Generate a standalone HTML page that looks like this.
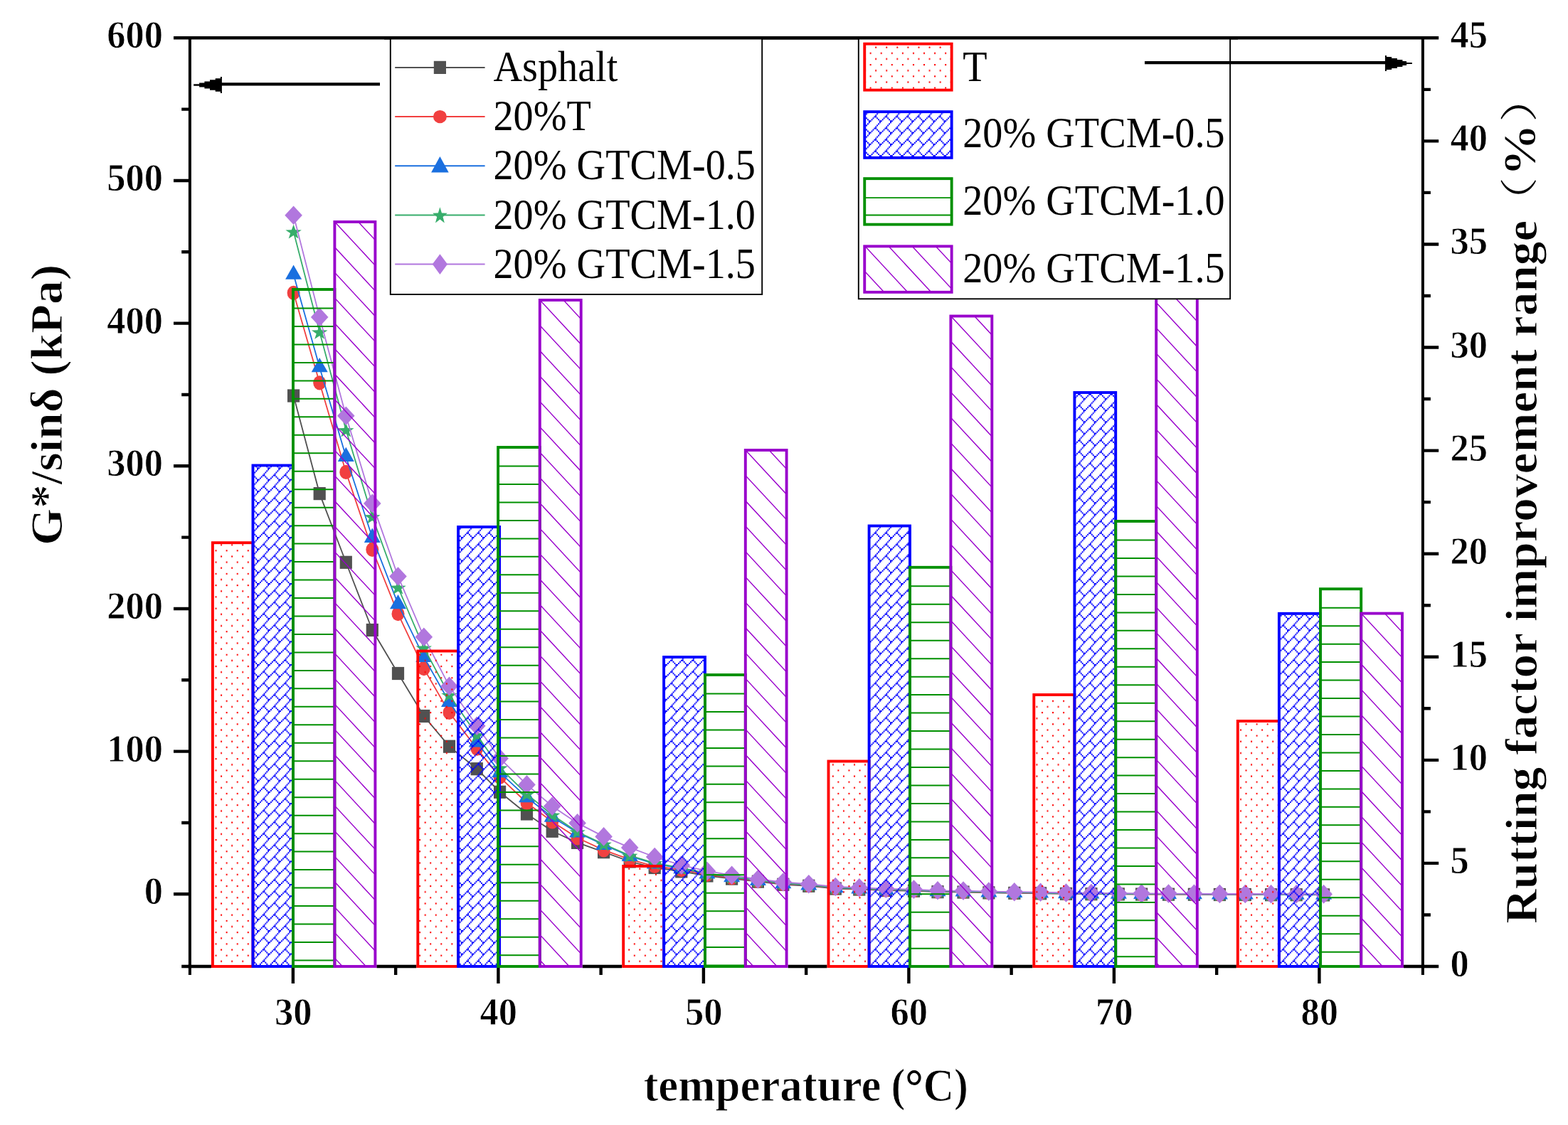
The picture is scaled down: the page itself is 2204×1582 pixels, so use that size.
<!DOCTYPE html>
<html lang="en"><head><meta charset="utf-8"><title>Rutting factor chart</title>
<style>html,body{margin:0;padding:0;background:#fff}svg{display:block}text{font-family:"Liberation Serif","Noto Serif CJK SC",serif;fill:#000}.b{font-weight:bold;stroke:#fff;stroke-width:1px;stroke-linejoin:round}</style></head><body>
<svg width="2204" height="1582" viewBox="0 0 2204 1582">
<rect width="2204" height="1582" fill="#fff"/>
<g>
<defs>
<pattern id="pb" patternUnits="userSpaceOnUse" width="8" height="8" patternTransform="translate(361.13 657.33) scale(1.8854 2.0335)">
<rect x="0" y="0" width="1" height="1" fill="#0000FF"/>
<rect x="1" y="0" width="1" height="1" fill="#0000FF"/>
<rect x="0" y="1" width="1" height="1" fill="#0000FF"/>
<rect x="7" y="2" width="1" height="1" fill="#0000FF"/>
<rect x="6" y="3" width="1" height="1" fill="#0000FF"/>
<rect x="5" y="4" width="1" height="1" fill="#0000FF"/>
<rect x="4" y="5" width="1" height="1" fill="#0000FF"/>
<rect x="5" y="5" width="1" height="1" fill="#0000FF"/>
<rect x="3" y="6" width="1" height="1" fill="#0000FF"/>
<rect x="6" y="6" width="1" height="1" fill="#0000FF"/>
<rect x="2" y="7" width="1" height="1" fill="#0000FF"/>
<rect x="7" y="7" width="1" height="1" fill="#0000FF"/>
</pattern>
<pattern id="pr" patternUnits="userSpaceOnUse" width="8" height="8" patternTransform="translate(302.56 1228.78) scale(1.8854 2.0335)">
<rect x="0" y="0" width="1.05" height="1.05" fill="#FF0000"/><rect x="4" y="4" width="1.05" height="1.05" fill="#FF0000"/>
</pattern>
</defs>
<g>
<polyline points="412.6,556.5 449.2,694.1 486.3,790.8 523.3,886 559.5,947 595.8,1007 631.5,1049.7 670.3,1081.2 702.6,1113.8 740.5,1144.5 776.2,1168.8 811.6,1184.9 848.6,1198.2 885.2,1211.5 920.2,1220 957.8,1225.4 993.9,1231.5 1028.6,1235.6 1065.4,1239.7 1100.8,1243.8 1136.8,1245.8 1174.3,1249.6 1207.8,1250.6 1245.3,1252 1284.5,1252.8 1318,1254.2 1354,1254.6 1389.9,1255.4 1425.8,1255.9 1462.6,1256.3 1498.5,1256.9 1533.9,1257.2 1572.3,1257.4 1604.6,1257.6 1642.5,1257.7 1678.4,1257.8 1714.4,1258 1750.3,1258 1786.6,1258.2 1822.2,1258.2 1860.6,1258.4" fill="none" stroke="#515151" stroke-width="1.8"/>
<rect x="404" y="547.4" width="17.2" height="18.2" fill="#515151"/>
<rect x="440.6" y="685" width="17.2" height="18.2" fill="#515151"/>
<rect x="477.7" y="781.7" width="17.2" height="18.2" fill="#515151"/>
<rect x="514.7" y="876.9" width="17.2" height="18.2" fill="#515151"/>
<rect x="550.9" y="937.9" width="17.2" height="18.2" fill="#515151"/>
<rect x="587.2" y="997.9" width="17.2" height="18.2" fill="#515151"/>
<rect x="622.9" y="1040.6" width="17.2" height="18.2" fill="#515151"/>
<rect x="661.7" y="1072.1" width="17.2" height="18.2" fill="#515151"/>
<rect x="694" y="1104.7" width="17.2" height="18.2" fill="#515151"/>
<rect x="731.9" y="1135.4" width="17.2" height="18.2" fill="#515151"/>
<rect x="767.6" y="1159.7" width="17.2" height="18.2" fill="#515151"/>
<rect x="803" y="1175.8" width="17.2" height="18.2" fill="#515151"/>
<rect x="840" y="1189.1" width="17.2" height="18.2" fill="#515151"/>
<rect x="876.6" y="1202.4" width="17.2" height="18.2" fill="#515151"/>
<rect x="911.6" y="1210.9" width="17.2" height="18.2" fill="#515151"/>
<rect x="949.2" y="1216.3" width="17.2" height="18.2" fill="#515151"/>
<rect x="985.3" y="1222.4" width="17.2" height="18.2" fill="#515151"/>
<rect x="1020" y="1226.5" width="17.2" height="18.2" fill="#515151"/>
<rect x="1056.8" y="1230.6" width="17.2" height="18.2" fill="#515151"/>
<rect x="1092.2" y="1234.7" width="17.2" height="18.2" fill="#515151"/>
<rect x="1128.2" y="1236.7" width="17.2" height="18.2" fill="#515151"/>
<rect x="1165.7" y="1240.5" width="17.2" height="18.2" fill="#515151"/>
<rect x="1199.2" y="1241.5" width="17.2" height="18.2" fill="#515151"/>
<rect x="1236.7" y="1242.9" width="17.2" height="18.2" fill="#515151"/>
<rect x="1275.9" y="1243.7" width="17.2" height="18.2" fill="#515151"/>
<rect x="1309.4" y="1245.1" width="17.2" height="18.2" fill="#515151"/>
<rect x="1345.4" y="1245.5" width="17.2" height="18.2" fill="#515151"/>
<rect x="1381.3" y="1246.3" width="17.2" height="18.2" fill="#515151"/>
<rect x="1417.2" y="1246.8" width="17.2" height="18.2" fill="#515151"/>
<rect x="1454" y="1247.2" width="17.2" height="18.2" fill="#515151"/>
<rect x="1489.9" y="1247.8" width="17.2" height="18.2" fill="#515151"/>
<rect x="1525.3" y="1248.1" width="17.2" height="18.2" fill="#515151"/>
<rect x="1563.7" y="1248.3" width="17.2" height="18.2" fill="#515151"/>
<rect x="1596" y="1248.5" width="17.2" height="18.2" fill="#515151"/>
<rect x="1633.9" y="1248.6" width="17.2" height="18.2" fill="#515151"/>
<rect x="1669.8" y="1248.7" width="17.2" height="18.2" fill="#515151"/>
<rect x="1705.8" y="1248.9" width="17.2" height="18.2" fill="#515151"/>
<rect x="1741.7" y="1248.9" width="17.2" height="18.2" fill="#515151"/>
<rect x="1778" y="1249.1" width="17.2" height="18.2" fill="#515151"/>
<rect x="1813.6" y="1249.1" width="17.2" height="18.2" fill="#515151"/>
<rect x="1852" y="1249.3" width="17.2" height="18.2" fill="#515151"/>
<polyline points="412.6,411.8 449.2,538.3 486.3,663.9 523.3,772.8 559.5,863.2 595.8,940.2 631.5,1001.9 670.3,1052.6 702.6,1092.9 740.5,1129 776.2,1155.5 811.6,1178.3 848.6,1195.3 885.2,1208.6 920.2,1218 957.8,1223.23 993.9,1229.85 1028.6,1234.38 1065.4,1238.88 1100.8,1242.97 1136.8,1245.15 1174.3,1248.95 1207.8,1250 1245.3,1251.45 1284.5,1252.25 1318,1253.72 1354,1254.1 1389.9,1254.95 1425.8,1255.48 1462.6,1255.9 1498.5,1256.55 1533.9,1256.9 1572.3,1257.1 1604.6,1257.3 1642.5,1257.42 1678.4,1257.55 1714.4,1257.75 1750.3,1257.75 1786.6,1257.95 1822.2,1257.95 1860.6,1258.15" fill="none" stroke="#F14040" stroke-width="1.8"/>
<ellipse cx="412.6" cy="411.8" rx="9.0" ry="10.1" fill="#F14040"/>
<ellipse cx="449.2" cy="538.3" rx="9.0" ry="10.1" fill="#F14040"/>
<ellipse cx="486.3" cy="663.9" rx="9.0" ry="10.1" fill="#F14040"/>
<ellipse cx="523.3" cy="772.8" rx="9.0" ry="10.1" fill="#F14040"/>
<ellipse cx="559.5" cy="863.2" rx="9.0" ry="10.1" fill="#F14040"/>
<ellipse cx="595.8" cy="940.2" rx="9.0" ry="10.1" fill="#F14040"/>
<ellipse cx="631.5" cy="1001.9" rx="9.0" ry="10.1" fill="#F14040"/>
<ellipse cx="670.3" cy="1052.6" rx="9.0" ry="10.1" fill="#F14040"/>
<ellipse cx="702.6" cy="1092.9" rx="9.0" ry="10.1" fill="#F14040"/>
<ellipse cx="740.5" cy="1129" rx="9.0" ry="10.1" fill="#F14040"/>
<ellipse cx="776.2" cy="1155.5" rx="9.0" ry="10.1" fill="#F14040"/>
<ellipse cx="811.6" cy="1178.3" rx="9.0" ry="10.1" fill="#F14040"/>
<ellipse cx="848.6" cy="1195.3" rx="9.0" ry="10.1" fill="#F14040"/>
<ellipse cx="885.2" cy="1208.6" rx="9.0" ry="10.1" fill="#F14040"/>
<ellipse cx="920.2" cy="1218" rx="9.0" ry="10.1" fill="#F14040"/>
<ellipse cx="957.8" cy="1223.23" rx="9.0" ry="10.1" fill="#F14040"/>
<ellipse cx="993.9" cy="1229.85" rx="9.0" ry="10.1" fill="#F14040"/>
<ellipse cx="1028.6" cy="1234.38" rx="9.0" ry="10.1" fill="#F14040"/>
<ellipse cx="1065.4" cy="1238.88" rx="9.0" ry="10.1" fill="#F14040"/>
<ellipse cx="1100.8" cy="1242.97" rx="9.0" ry="10.1" fill="#F14040"/>
<ellipse cx="1136.8" cy="1245.15" rx="9.0" ry="10.1" fill="#F14040"/>
<ellipse cx="1174.3" cy="1248.95" rx="9.0" ry="10.1" fill="#F14040"/>
<ellipse cx="1207.8" cy="1250" rx="9.0" ry="10.1" fill="#F14040"/>
<ellipse cx="1245.3" cy="1251.45" rx="9.0" ry="10.1" fill="#F14040"/>
<ellipse cx="1284.5" cy="1252.25" rx="9.0" ry="10.1" fill="#F14040"/>
<ellipse cx="1318" cy="1253.72" rx="9.0" ry="10.1" fill="#F14040"/>
<ellipse cx="1354" cy="1254.1" rx="9.0" ry="10.1" fill="#F14040"/>
<ellipse cx="1389.9" cy="1254.95" rx="9.0" ry="10.1" fill="#F14040"/>
<ellipse cx="1425.8" cy="1255.48" rx="9.0" ry="10.1" fill="#F14040"/>
<ellipse cx="1462.6" cy="1255.9" rx="9.0" ry="10.1" fill="#F14040"/>
<ellipse cx="1498.5" cy="1256.55" rx="9.0" ry="10.1" fill="#F14040"/>
<ellipse cx="1533.9" cy="1256.9" rx="9.0" ry="10.1" fill="#F14040"/>
<ellipse cx="1572.3" cy="1257.1" rx="9.0" ry="10.1" fill="#F14040"/>
<ellipse cx="1604.6" cy="1257.3" rx="9.0" ry="10.1" fill="#F14040"/>
<ellipse cx="1642.5" cy="1257.42" rx="9.0" ry="10.1" fill="#F14040"/>
<ellipse cx="1678.4" cy="1257.55" rx="9.0" ry="10.1" fill="#F14040"/>
<ellipse cx="1714.4" cy="1257.75" rx="9.0" ry="10.1" fill="#F14040"/>
<ellipse cx="1750.3" cy="1257.75" rx="9.0" ry="10.1" fill="#F14040"/>
<ellipse cx="1786.6" cy="1257.95" rx="9.0" ry="10.1" fill="#F14040"/>
<ellipse cx="1822.2" cy="1257.95" rx="9.0" ry="10.1" fill="#F14040"/>
<ellipse cx="1860.6" cy="1258.15" rx="9.0" ry="10.1" fill="#F14040"/>
<polyline points="412.6,385.9 449.2,516.4 486.3,642.2 523.3,756 559.5,849.4 595.8,924.2 631.5,987.2 670.3,1043.6 702.6,1086.3 740.5,1121.4 776.2,1148.9 811.6,1170.7 848.6,1188 885.2,1204 920.2,1214.5 957.8,1221.49 993.9,1228.53 1028.6,1233.39 1065.4,1238.22 1100.8,1242.32 1136.8,1244.63 1174.3,1248.43 1207.8,1249.52 1245.3,1251.01 1284.5,1251.81 1318,1253.35 1354,1253.7 1389.9,1254.59 1425.8,1255.13 1462.6,1255.58 1498.5,1256.27 1533.9,1256.66 1572.3,1256.86 1604.6,1257.06 1642.5,1257.2 1678.4,1257.35 1714.4,1257.55 1750.3,1257.55 1786.6,1257.75 1822.2,1257.75 1860.6,1257.95" fill="none" stroke="#1A6FDF" stroke-width="1.8"/>
<polygon points="412.6,372.4 424.1,392.8 401.1,392.8" fill="#1A6FDF"/>
<polygon points="449.2,502.9 460.7,523.3 437.7,523.3" fill="#1A6FDF"/>
<polygon points="486.3,628.7 497.8,649.1 474.8,649.1" fill="#1A6FDF"/>
<polygon points="523.3,742.5 534.8,762.9 511.8,762.9" fill="#1A6FDF"/>
<polygon points="559.5,835.9 571,856.3 548,856.3" fill="#1A6FDF"/>
<polygon points="595.8,910.7 607.3,931.1 584.3,931.1" fill="#1A6FDF"/>
<polygon points="631.5,973.7 643,994.1 620,994.1" fill="#1A6FDF"/>
<polygon points="670.3,1030.1 681.8,1050.5 658.8,1050.5" fill="#1A6FDF"/>
<polygon points="702.6,1072.8 714.1,1093.2 691.1,1093.2" fill="#1A6FDF"/>
<polygon points="740.5,1107.9 752,1128.3 729,1128.3" fill="#1A6FDF"/>
<polygon points="776.2,1135.4 787.7,1155.8 764.7,1155.8" fill="#1A6FDF"/>
<polygon points="811.6,1157.2 823.1,1177.6 800.1,1177.6" fill="#1A6FDF"/>
<polygon points="848.6,1174.5 860.1,1194.9 837.1,1194.9" fill="#1A6FDF"/>
<polygon points="885.2,1190.5 896.7,1210.9 873.7,1210.9" fill="#1A6FDF"/>
<polygon points="920.2,1201 931.7,1221.4 908.7,1221.4" fill="#1A6FDF"/>
<polygon points="957.8,1207.99 969.3,1228.39 946.3,1228.39" fill="#1A6FDF"/>
<polygon points="993.9,1215.03 1005.4,1235.43 982.4,1235.43" fill="#1A6FDF"/>
<polygon points="1028.6,1219.89 1040.1,1240.3 1017.1,1240.3" fill="#1A6FDF"/>
<polygon points="1065.4,1224.72 1076.9,1245.12 1053.9,1245.12" fill="#1A6FDF"/>
<polygon points="1100.8,1228.82 1112.3,1249.22 1089.3,1249.22" fill="#1A6FDF"/>
<polygon points="1136.8,1231.13 1148.3,1251.53 1125.3,1251.53" fill="#1A6FDF"/>
<polygon points="1174.3,1234.93 1185.8,1255.33 1162.8,1255.33" fill="#1A6FDF"/>
<polygon points="1207.8,1236.02 1219.3,1256.42 1196.3,1256.42" fill="#1A6FDF"/>
<polygon points="1245.3,1237.51 1256.8,1257.91 1233.8,1257.91" fill="#1A6FDF"/>
<polygon points="1284.5,1238.31 1296,1258.71 1273,1258.71" fill="#1A6FDF"/>
<polygon points="1318,1239.85 1329.5,1260.25 1306.5,1260.25" fill="#1A6FDF"/>
<polygon points="1354,1240.2 1365.5,1260.6 1342.5,1260.6" fill="#1A6FDF"/>
<polygon points="1389.9,1241.09 1401.4,1261.49 1378.4,1261.49" fill="#1A6FDF"/>
<polygon points="1425.8,1241.63 1437.3,1262.04 1414.3,1262.04" fill="#1A6FDF"/>
<polygon points="1462.6,1242.08 1474.1,1262.48 1451.1,1262.48" fill="#1A6FDF"/>
<polygon points="1498.5,1242.77 1510,1263.17 1487,1263.17" fill="#1A6FDF"/>
<polygon points="1533.9,1243.16 1545.4,1263.56 1522.4,1263.56" fill="#1A6FDF"/>
<polygon points="1572.3,1243.36 1583.8,1263.76 1560.8,1263.76" fill="#1A6FDF"/>
<polygon points="1604.6,1243.56 1616.1,1263.96 1593.1,1263.96" fill="#1A6FDF"/>
<polygon points="1642.5,1243.7 1654,1264.11 1631,1264.11" fill="#1A6FDF"/>
<polygon points="1678.4,1243.85 1689.9,1264.25 1666.9,1264.25" fill="#1A6FDF"/>
<polygon points="1714.4,1244.05 1725.9,1264.45 1702.9,1264.45" fill="#1A6FDF"/>
<polygon points="1750.3,1244.05 1761.8,1264.45 1738.8,1264.45" fill="#1A6FDF"/>
<polygon points="1786.6,1244.25 1798.1,1264.65 1775.1,1264.65" fill="#1A6FDF"/>
<polygon points="1822.2,1244.25 1833.7,1264.65 1810.7,1264.65" fill="#1A6FDF"/>
<polygon points="1860.6,1244.45 1872.1,1264.85 1849.1,1264.85" fill="#1A6FDF"/>
<polyline points="412.6,325.7 449.2,466.8 486.3,604.6 523.3,726.5 559.5,826 595.8,910.9 631.5,977.2 670.3,1033.6 702.6,1079.7 740.5,1116.6 776.2,1146 811.6,1169.7 848.6,1187 885.2,1203 920.2,1213.5 957.8,1220.62 993.9,1227.87 1028.6,1232.9 1065.4,1237.88 1100.8,1241.98 1136.8,1244.37 1174.3,1248.17 1207.8,1249.28 1245.3,1250.79 1284.5,1251.59 1318,1253.15 1354,1253.5 1389.9,1254.41 1425.8,1254.97 1462.6,1255.42 1498.5,1256.13 1533.9,1256.54 1572.3,1256.74 1604.6,1256.94 1642.5,1257.1 1678.4,1257.25 1714.4,1257.45 1750.3,1257.45 1786.6,1257.65 1822.2,1257.65 1860.6,1257.85" fill="none" stroke="#37AD6B" stroke-width="1.8"/>
<polygon points="412.6,315.85 415.37,323.22 423.82,323.38 417.09,328.1 419.54,335.57 412.6,331.11 405.66,335.57 408.11,328.1 401.38,323.38 409.83,323.22" fill="#37AD6B"/>
<polygon points="449.2,456.95 451.97,464.32 460.42,464.48 453.69,469.2 456.14,476.67 449.2,472.21 442.26,476.67 444.71,469.2 437.98,464.48 446.43,464.32" fill="#37AD6B"/>
<polygon points="486.3,594.75 489.07,602.12 497.52,602.28 490.79,607 493.24,614.47 486.3,610.01 479.36,614.47 481.81,607 475.08,602.28 483.53,602.12" fill="#37AD6B"/>
<polygon points="523.3,716.65 526.07,724.02 534.52,724.18 527.79,728.9 530.24,736.37 523.3,731.91 516.36,736.37 518.81,728.9 512.08,724.18 520.53,724.02" fill="#37AD6B"/>
<polygon points="559.5,816.15 562.27,823.52 570.72,823.68 563.99,828.4 566.44,835.87 559.5,831.41 552.56,835.87 555.01,828.4 548.28,823.68 556.73,823.52" fill="#37AD6B"/>
<polygon points="595.8,901.05 598.57,908.42 607.02,908.58 600.29,913.3 602.74,920.77 595.8,916.31 588.86,920.77 591.31,913.3 584.58,908.58 593.03,908.42" fill="#37AD6B"/>
<polygon points="631.5,967.35 634.27,974.72 642.72,974.88 635.99,979.6 638.44,987.07 631.5,982.61 624.56,987.07 627.01,979.6 620.28,974.88 628.73,974.72" fill="#37AD6B"/>
<polygon points="670.3,1023.75 673.07,1031.12 681.52,1031.28 674.79,1036 677.24,1043.47 670.3,1039.01 663.36,1043.47 665.81,1036 659.08,1031.28 667.53,1031.12" fill="#37AD6B"/>
<polygon points="702.6,1069.85 705.37,1077.22 713.82,1077.38 707.09,1082.1 709.54,1089.57 702.6,1085.11 695.66,1089.57 698.11,1082.1 691.38,1077.38 699.83,1077.22" fill="#37AD6B"/>
<polygon points="740.5,1106.75 743.27,1114.12 751.72,1114.28 744.99,1119 747.44,1126.47 740.5,1122.01 733.56,1126.47 736.01,1119 729.28,1114.28 737.73,1114.12" fill="#37AD6B"/>
<polygon points="776.2,1136.15 778.97,1143.52 787.42,1143.68 780.69,1148.4 783.14,1155.87 776.2,1151.41 769.26,1155.87 771.71,1148.4 764.98,1143.68 773.43,1143.52" fill="#37AD6B"/>
<polygon points="811.6,1159.85 814.37,1167.22 822.82,1167.38 816.09,1172.1 818.54,1179.57 811.6,1175.11 804.66,1179.57 807.11,1172.1 800.38,1167.38 808.83,1167.22" fill="#37AD6B"/>
<polygon points="848.6,1177.15 851.37,1184.52 859.82,1184.68 853.09,1189.4 855.54,1196.87 848.6,1192.41 841.66,1196.87 844.11,1189.4 837.38,1184.68 845.83,1184.52" fill="#37AD6B"/>
<polygon points="885.2,1193.15 887.97,1200.52 896.42,1200.68 889.69,1205.4 892.14,1212.87 885.2,1208.41 878.26,1212.87 880.71,1205.4 873.98,1200.68 882.43,1200.52" fill="#37AD6B"/>
<polygon points="920.2,1203.65 922.97,1211.02 931.42,1211.18 924.69,1215.9 927.14,1223.37 920.2,1218.91 913.26,1223.37 915.71,1215.9 908.98,1211.18 917.43,1211.02" fill="#37AD6B"/>
<polygon points="957.8,1210.76 960.57,1218.14 969.02,1218.3 962.29,1223.01 964.74,1230.48 957.8,1226.02 950.86,1230.48 953.31,1223.01 946.58,1218.3 955.03,1218.14" fill="#37AD6B"/>
<polygon points="993.9,1218.02 996.67,1225.39 1005.12,1225.55 998.39,1230.27 1000.84,1237.74 993.9,1233.28 986.96,1237.74 989.41,1230.27 982.68,1225.55 991.13,1225.39" fill="#37AD6B"/>
<polygon points="1028.6,1223.05 1031.37,1230.43 1039.82,1230.59 1033.09,1235.3 1035.54,1242.77 1028.6,1238.31 1021.66,1242.77 1024.11,1235.3 1017.38,1230.59 1025.83,1230.43" fill="#37AD6B"/>
<polygon points="1065.4,1228.03 1068.17,1235.41 1076.62,1235.57 1069.89,1240.28 1072.34,1247.75 1065.4,1243.29 1058.46,1247.75 1060.91,1240.28 1054.18,1235.57 1062.63,1235.41" fill="#37AD6B"/>
<polygon points="1100.8,1232.13 1103.57,1239.51 1112.02,1239.67 1105.29,1244.38 1107.74,1251.85 1100.8,1247.39 1093.86,1251.85 1096.31,1244.38 1089.58,1239.67 1098.03,1239.51" fill="#37AD6B"/>
<polygon points="1136.8,1234.52 1139.57,1241.89 1148.02,1242.05 1141.29,1246.77 1143.74,1254.24 1136.8,1249.78 1129.86,1254.24 1132.31,1246.77 1125.58,1242.05 1134.03,1241.89" fill="#37AD6B"/>
<polygon points="1174.3,1238.32 1177.07,1245.69 1185.52,1245.85 1178.79,1250.57 1181.24,1258.04 1174.3,1253.58 1167.36,1258.04 1169.81,1250.57 1163.08,1245.85 1171.53,1245.69" fill="#37AD6B"/>
<polygon points="1207.8,1239.43 1210.57,1246.8 1219.02,1246.96 1212.29,1251.68 1214.74,1259.15 1207.8,1254.69 1200.86,1259.15 1203.31,1251.68 1196.58,1246.96 1205.03,1246.8" fill="#37AD6B"/>
<polygon points="1245.3,1240.94 1248.07,1248.31 1256.52,1248.47 1249.79,1253.19 1252.24,1260.66 1245.3,1256.2 1238.36,1260.66 1240.81,1253.19 1234.08,1248.47 1242.53,1248.31" fill="#37AD6B"/>
<polygon points="1284.5,1241.74 1287.27,1249.11 1295.72,1249.27 1288.99,1253.99 1291.44,1261.46 1284.5,1257 1277.56,1261.46 1280.01,1253.99 1273.28,1249.27 1281.73,1249.11" fill="#37AD6B"/>
<polygon points="1318,1243.3 1320.77,1250.68 1329.22,1250.84 1322.49,1255.55 1324.94,1263.02 1318,1258.56 1311.06,1263.02 1313.51,1255.55 1306.78,1250.84 1315.23,1250.68" fill="#37AD6B"/>
<polygon points="1354,1243.65 1356.77,1251.02 1365.22,1251.18 1358.49,1255.9 1360.94,1263.37 1354,1258.91 1347.06,1263.37 1349.51,1255.9 1342.78,1251.18 1351.23,1251.02" fill="#37AD6B"/>
<polygon points="1389.9,1244.56 1392.67,1251.93 1401.12,1252.09 1394.39,1256.81 1396.84,1264.28 1389.9,1259.82 1382.96,1264.28 1385.41,1256.81 1378.68,1252.09 1387.13,1251.93" fill="#37AD6B"/>
<polygon points="1425.8,1245.12 1428.57,1252.49 1437.02,1252.65 1430.29,1257.36 1432.74,1264.83 1425.8,1260.38 1418.86,1264.83 1421.31,1257.36 1414.58,1252.65 1423.03,1252.49" fill="#37AD6B"/>
<polygon points="1462.6,1245.57 1465.37,1252.94 1473.82,1253.1 1467.09,1257.82 1469.54,1265.29 1462.6,1260.83 1455.66,1265.29 1458.11,1257.82 1451.38,1253.1 1459.83,1252.94" fill="#37AD6B"/>
<polygon points="1498.5,1246.28 1501.27,1253.65 1509.72,1253.81 1502.99,1258.53 1505.44,1266 1498.5,1261.54 1491.56,1266 1494.01,1258.53 1487.28,1253.81 1495.73,1253.65" fill="#37AD6B"/>
<polygon points="1533.9,1246.69 1536.67,1254.06 1545.12,1254.22 1538.39,1258.94 1540.84,1266.41 1533.9,1261.95 1526.96,1266.41 1529.41,1258.94 1522.68,1254.22 1531.13,1254.06" fill="#37AD6B"/>
<polygon points="1572.3,1246.89 1575.07,1254.26 1583.52,1254.42 1576.79,1259.14 1579.24,1266.61 1572.3,1262.15 1565.36,1266.61 1567.81,1259.14 1561.08,1254.42 1569.53,1254.26" fill="#37AD6B"/>
<polygon points="1604.6,1247.09 1607.37,1254.46 1615.82,1254.62 1609.09,1259.34 1611.54,1266.81 1604.6,1262.35 1597.66,1266.81 1600.11,1259.34 1593.38,1254.62 1601.83,1254.46" fill="#37AD6B"/>
<polygon points="1642.5,1247.24 1645.27,1254.62 1653.72,1254.78 1646.99,1259.49 1649.44,1266.96 1642.5,1262.5 1635.56,1266.96 1638.01,1259.49 1631.28,1254.78 1639.73,1254.62" fill="#37AD6B"/>
<polygon points="1678.4,1247.4 1681.17,1254.77 1689.62,1254.93 1682.89,1259.65 1685.34,1267.12 1678.4,1262.66 1671.46,1267.12 1673.91,1259.65 1667.18,1254.93 1675.63,1254.77" fill="#37AD6B"/>
<polygon points="1714.4,1247.6 1717.17,1254.97 1725.62,1255.13 1718.89,1259.85 1721.34,1267.32 1714.4,1262.86 1707.46,1267.32 1709.91,1259.85 1703.18,1255.13 1711.63,1254.97" fill="#37AD6B"/>
<polygon points="1750.3,1247.6 1753.07,1254.97 1761.52,1255.13 1754.79,1259.85 1757.24,1267.32 1750.3,1262.86 1743.36,1267.32 1745.81,1259.85 1739.08,1255.13 1747.53,1254.97" fill="#37AD6B"/>
<polygon points="1786.6,1247.8 1789.37,1255.17 1797.82,1255.33 1791.09,1260.05 1793.54,1267.52 1786.6,1263.06 1779.66,1267.52 1782.11,1260.05 1775.38,1255.33 1783.83,1255.17" fill="#37AD6B"/>
<polygon points="1822.2,1247.8 1824.97,1255.17 1833.42,1255.33 1826.69,1260.05 1829.14,1267.52 1822.2,1263.06 1815.26,1267.52 1817.71,1260.05 1810.98,1255.33 1819.43,1255.17" fill="#37AD6B"/>
<polygon points="1860.6,1248 1863.37,1255.37 1871.82,1255.53 1865.09,1260.25 1867.54,1267.72 1860.6,1263.26 1853.66,1267.72 1856.11,1260.25 1849.38,1255.53 1857.83,1255.37" fill="#37AD6B"/>
<polyline points="412.6,302.8 449.2,445.9 486.3,584.7 523.3,707.9 559.5,810.5 595.8,895.7 631.5,964.9 670.3,1020.8 702.6,1066.4 740.5,1103.4 776.2,1133.7 811.6,1157.4 848.6,1176.4 885.2,1191.9 920.2,1205 957.8,1216.7 993.9,1224.9 1028.6,1230.7 1065.4,1236.4 1100.8,1240.5 1136.8,1243.2 1174.3,1247 1207.8,1248.2 1245.3,1249.8 1284.5,1250.6 1318,1252.3 1354,1252.6 1389.9,1253.6 1425.8,1254.2 1462.6,1254.7 1498.5,1255.5 1533.9,1256 1572.3,1256.2 1604.6,1256.4 1642.5,1256.6 1678.4,1256.8 1714.4,1257 1750.3,1257 1786.6,1257.2 1822.2,1257.2 1860.6,1257.4" fill="none" stroke="#B177DE" stroke-width="1.8"/>
<polygon points="412.6,289.5 424.9,302.8 412.6,316.1 400.3,302.8" fill="#B177DE"/>
<polygon points="449.2,432.6 461.5,445.9 449.2,459.2 436.9,445.9" fill="#B177DE"/>
<polygon points="486.3,571.4 498.6,584.7 486.3,598 474,584.7" fill="#B177DE"/>
<polygon points="523.3,694.6 535.6,707.9 523.3,721.2 511,707.9" fill="#B177DE"/>
<polygon points="559.5,797.2 571.8,810.5 559.5,823.8 547.2,810.5" fill="#B177DE"/>
<polygon points="595.8,882.4 608.1,895.7 595.8,909 583.5,895.7" fill="#B177DE"/>
<polygon points="631.5,951.6 643.8,964.9 631.5,978.2 619.2,964.9" fill="#B177DE"/>
<polygon points="670.3,1007.5 682.6,1020.8 670.3,1034.1 658,1020.8" fill="#B177DE"/>
<polygon points="702.6,1053.1 714.9,1066.4 702.6,1079.7 690.3,1066.4" fill="#B177DE"/>
<polygon points="740.5,1090.1 752.8,1103.4 740.5,1116.7 728.2,1103.4" fill="#B177DE"/>
<polygon points="776.2,1120.4 788.5,1133.7 776.2,1147 763.9,1133.7" fill="#B177DE"/>
<polygon points="811.6,1144.1 823.9,1157.4 811.6,1170.7 799.3,1157.4" fill="#B177DE"/>
<polygon points="848.6,1163.1 860.9,1176.4 848.6,1189.7 836.3,1176.4" fill="#B177DE"/>
<polygon points="885.2,1178.6 897.5,1191.9 885.2,1205.2 872.9,1191.9" fill="#B177DE"/>
<polygon points="920.2,1191.7 932.5,1205 920.2,1218.3 907.9,1205" fill="#B177DE"/>
<polygon points="957.8,1203.4 970.1,1216.7 957.8,1230 945.5,1216.7" fill="#B177DE"/>
<polygon points="993.9,1211.6 1006.2,1224.9 993.9,1238.2 981.6,1224.9" fill="#B177DE"/>
<polygon points="1028.6,1217.4 1040.9,1230.7 1028.6,1244 1016.3,1230.7" fill="#B177DE"/>
<polygon points="1065.4,1223.1 1077.7,1236.4 1065.4,1249.7 1053.1,1236.4" fill="#B177DE"/>
<polygon points="1100.8,1227.2 1113.1,1240.5 1100.8,1253.8 1088.5,1240.5" fill="#B177DE"/>
<polygon points="1136.8,1229.9 1149.1,1243.2 1136.8,1256.5 1124.5,1243.2" fill="#B177DE"/>
<polygon points="1174.3,1233.7 1186.6,1247 1174.3,1260.3 1162,1247" fill="#B177DE"/>
<polygon points="1207.8,1234.9 1220.1,1248.2 1207.8,1261.5 1195.5,1248.2" fill="#B177DE"/>
<polygon points="1245.3,1236.5 1257.6,1249.8 1245.3,1263.1 1233,1249.8" fill="#B177DE"/>
<polygon points="1284.5,1237.3 1296.8,1250.6 1284.5,1263.9 1272.2,1250.6" fill="#B177DE"/>
<polygon points="1318,1239 1330.3,1252.3 1318,1265.6 1305.7,1252.3" fill="#B177DE"/>
<polygon points="1354,1239.3 1366.3,1252.6 1354,1265.9 1341.7,1252.6" fill="#B177DE"/>
<polygon points="1389.9,1240.3 1402.2,1253.6 1389.9,1266.9 1377.6,1253.6" fill="#B177DE"/>
<polygon points="1425.8,1240.9 1438.1,1254.2 1425.8,1267.5 1413.5,1254.2" fill="#B177DE"/>
<polygon points="1462.6,1241.4 1474.9,1254.7 1462.6,1268 1450.3,1254.7" fill="#B177DE"/>
<polygon points="1498.5,1242.2 1510.8,1255.5 1498.5,1268.8 1486.2,1255.5" fill="#B177DE"/>
<polygon points="1533.9,1242.7 1546.2,1256 1533.9,1269.3 1521.6,1256" fill="#B177DE"/>
<polygon points="1572.3,1242.9 1584.6,1256.2 1572.3,1269.5 1560,1256.2" fill="#B177DE"/>
<polygon points="1604.6,1243.1 1616.9,1256.4 1604.6,1269.7 1592.3,1256.4" fill="#B177DE"/>
<polygon points="1642.5,1243.3 1654.8,1256.6 1642.5,1269.9 1630.2,1256.6" fill="#B177DE"/>
<polygon points="1678.4,1243.5 1690.7,1256.8 1678.4,1270.1 1666.1,1256.8" fill="#B177DE"/>
<polygon points="1714.4,1243.7 1726.7,1257 1714.4,1270.3 1702.1,1257" fill="#B177DE"/>
<polygon points="1750.3,1243.7 1762.6,1257 1750.3,1270.3 1738,1257" fill="#B177DE"/>
<polygon points="1786.6,1243.9 1798.9,1257.2 1786.6,1270.5 1774.3,1257.2" fill="#B177DE"/>
<polygon points="1822.2,1243.9 1834.5,1257.2 1822.2,1270.5 1809.9,1257.2" fill="#B177DE"/>
<polygon points="1860.6,1244.1 1872.9,1257.4 1860.6,1270.7 1848.3,1257.4" fill="#B177DE"/>
</g>
<g stroke="#000" stroke-width="4.4" fill="none">
<path d="M244 53.3H2022.2"/>
<path d="M266.9 53.3V1371" stroke-width="4"/>
<path d="M1999.9 53.3V1371" stroke-width="4"/>
<path d="M244 1257.3H266.6M244 1056.63H266.6M244 855.97H266.6M244 655.3H266.6M244 454.63H266.6M244 253.96H266.6M255.2 1359H266.6M255.2 1156.97H266.6M255.2 956.3H266.6M255.2 755.63H266.6M255.2 554.97H266.6M255.2 354.3H266.6M255.2 153.63H266.6M1999.9 1359H2022.2M1999.9 1213.92H2022.2M1999.9 1068.84H2022.2M1999.9 923.77H2022.2M1999.9 778.69H2022.2M1999.9 633.61H2022.2M1999.9 488.53H2022.2M1999.9 343.46H2022.2M1999.9 198.38H2022.2M1999.9 1286.46H2010.9M1999.9 1141.38H2010.9M1999.9 996.31H2010.9M1999.9 851.23H2010.9M1999.9 706.15H2010.9M1999.9 561.07H2010.9M1999.9 415.99H2010.9M1999.9 270.92H2010.9M1999.9 125.84H2010.9M411.9 1359V1383M700.4 1359V1383M988.9 1359V1383M1277.4 1359V1383M1565.9 1359V1383M1854.4 1359V1383M556.15 1359V1371M844.65 1359V1371M1133.15 1359V1371M1421.65 1359V1371M1710.15 1359V1371"/>
</g>
<path d="M264.4 1359H296.95M529.35 1359H585.35M818.65 1359H874.25M1107.55 1359H1162.55M1396.25 1359H1451.35M1684.75 1359H1737.85M1972.95 1359H2002.1" stroke="#000" stroke-width="4.4" fill="none"/>
<g>
<rect x="298.9" y="763.2" width="56.6" height="595.8" fill="url(#pr)"/>
<rect x="298.9" y="763.2" width="56.6" height="595.8" fill="none" stroke="#FF0000" stroke-width="3.9"/>
<rect x="355.5" y="654.5" width="56.5" height="704.5" fill="url(#pb)"/>
<rect x="355.5" y="654.5" width="56.5" height="704.5" fill="none" stroke="#0000FF" stroke-width="3.9"/>
<path d="M412 433.5H470.4M412 458.97H470.4M412 484.44H470.4M412 509.91H470.4M412 535.38H470.4M412 560.85H470.4M412 586.32H470.4M412 611.79H470.4M412 637.26H470.4M412 662.73H470.4M412 688.2H470.4M412 713.67H470.4M412 739.14H470.4M412 764.61H470.4M412 790.08H470.4M412 815.55H470.4M412 841.02H470.4M412 866.49H470.4M412 891.96H470.4M412 917.43H470.4M412 942.9H470.4M412 968.37H470.4M412 993.84H470.4M412 1019.31H470.4M412 1044.78H470.4M412 1070.25H470.4M412 1095.72H470.4M412 1121.19H470.4M412 1146.66H470.4M412 1172.13H470.4M412 1197.6H470.4M412 1223.07H470.4M412 1248.54H470.4M412 1274.01H470.4M412 1299.48H470.4M412 1324.95H470.4M412 1350.42H470.4" stroke="#009000" stroke-width="2" fill="none"/>
<rect x="412" y="407" width="58.4" height="952" fill="none" stroke="#009000" stroke-width="3.9"/>
<clipPath id="c1"><rect x="470.4" y="312" width="57" height="1047"/></clipPath>
<path d="M462.35 196.06L537.4 277.01M462.35 231.76L537.4 312.71M462.35 267.46L537.4 348.41M462.35 303.16L537.4 384.11M462.35 338.86L537.4 419.81M462.35 374.56L537.4 455.51M462.35 410.26L537.4 491.21M462.35 445.96L537.4 526.91M462.35 481.66L537.4 562.61M462.35 517.36L537.4 598.31M462.35 553.06L537.4 634.01M462.35 588.76L537.4 669.71M462.35 624.46L537.4 705.41M462.35 660.16L537.4 741.11M462.35 695.86L537.4 776.81M462.35 731.56L537.4 812.51M462.35 767.26L537.4 848.21M462.35 802.96L537.4 883.91M462.35 838.66L537.4 919.61M462.35 874.36L537.4 955.31M462.35 910.06L537.4 991.01M462.35 945.76L537.4 1026.71M462.35 981.46L537.4 1062.41M462.35 1017.16L537.4 1098.11M462.35 1052.86L537.4 1133.81M462.35 1088.56L537.4 1169.51M462.35 1124.26L537.4 1205.21M462.35 1159.96L537.4 1240.91M462.35 1195.66L537.4 1276.61M462.35 1231.36L537.4 1312.31M462.35 1267.06L537.4 1348.01M462.35 1302.76L537.4 1383.71M462.35 1338.46L537.4 1419.41" stroke="#9900CC" stroke-width="1.4" fill="none" clip-path="url(#c1)"/>
<rect x="470.4" y="312" width="57" height="1047" fill="none" stroke="#9900CC" stroke-width="3.9"/>
<rect x="587.3" y="915.5" width="56.8" height="443.5" fill="url(#pr)"/>
<rect x="587.3" y="915.5" width="56.8" height="443.5" fill="none" stroke="#FF0000" stroke-width="3.9"/>
<rect x="644.1" y="741" width="58" height="618" fill="url(#pb)"/>
<rect x="644.1" y="741" width="58" height="618" fill="none" stroke="#0000FF" stroke-width="3.9"/>
<path d="M700.1 655.5H758.8M700.1 680.97H758.8M700.1 706.44H758.8M700.1 731.91H758.8M700.1 757.38H758.8M700.1 782.85H758.8M700.1 808.32H758.8M700.1 833.79H758.8M700.1 859.26H758.8M700.1 884.73H758.8M700.1 910.2H758.8M700.1 935.67H758.8M700.1 961.14H758.8M700.1 986.61H758.8M700.1 1012.08H758.8M700.1 1037.55H758.8M700.1 1063.02H758.8M700.1 1088.49H758.8M700.1 1113.96H758.8M700.1 1139.43H758.8M700.1 1164.9H758.8M700.1 1190.37H758.8M700.1 1215.84H758.8M700.1 1241.31H758.8M700.1 1266.78H758.8M700.1 1292.25H758.8M700.1 1317.72H758.8M700.1 1343.19H758.8" stroke="#009000" stroke-width="2" fill="none"/>
<rect x="700.1" y="629" width="58.7" height="730" fill="none" stroke="#009000" stroke-width="3.9"/>
<clipPath id="c2"><rect x="758.8" y="422" width="57.9" height="937"/></clipPath>
<path d="M750.75 306.06L826.7 387.98M750.75 341.76L826.7 423.68M750.75 377.46L826.7 459.38M750.75 413.16L826.7 495.08M750.75 448.86L826.7 530.78M750.75 484.56L826.7 566.48M750.75 520.26L826.7 602.18M750.75 555.96L826.7 637.88M750.75 591.66L826.7 673.58M750.75 627.36L826.7 709.28M750.75 663.06L826.7 744.98M750.75 698.76L826.7 780.68M750.75 734.46L826.7 816.38M750.75 770.16L826.7 852.08M750.75 805.86L826.7 887.78M750.75 841.56L826.7 923.48M750.75 877.26L826.7 959.18M750.75 912.96L826.7 994.88M750.75 948.66L826.7 1030.58M750.75 984.36L826.7 1066.28M750.75 1020.06L826.7 1101.98M750.75 1055.76L826.7 1137.68M750.75 1091.46L826.7 1173.38M750.75 1127.16L826.7 1209.08M750.75 1162.86L826.7 1244.78M750.75 1198.56L826.7 1280.48M750.75 1234.26L826.7 1316.18M750.75 1269.96L826.7 1351.88M750.75 1305.66L826.7 1387.58M750.75 1341.36L826.7 1423.28" stroke="#9900CC" stroke-width="1.4" fill="none" clip-path="url(#c2)"/>
<rect x="758.8" y="422" width="57.9" height="937" fill="none" stroke="#9900CC" stroke-width="3.9"/>
<rect x="876.2" y="1218" width="56.9" height="141" fill="url(#pr)"/>
<rect x="876.2" y="1218" width="56.9" height="141" fill="none" stroke="#FF0000" stroke-width="3.9"/>
<rect x="933.1" y="924" width="57.9" height="435" fill="url(#pb)"/>
<rect x="933.1" y="924" width="57.9" height="435" fill="none" stroke="#0000FF" stroke-width="3.9"/>
<path d="M991 975.5H1047.8M991 1000.97H1047.8M991 1026.44H1047.8M991 1051.91H1047.8M991 1077.38H1047.8M991 1102.85H1047.8M991 1128.32H1047.8M991 1153.79H1047.8M991 1179.26H1047.8M991 1204.73H1047.8M991 1230.2H1047.8M991 1255.67H1047.8M991 1281.14H1047.8M991 1306.61H1047.8M991 1332.08H1047.8M991 1357.55H1047.8" stroke="#009000" stroke-width="2" fill="none"/>
<rect x="991" y="949" width="56.8" height="410" fill="none" stroke="#009000" stroke-width="3.9"/>
<clipPath id="c3"><rect x="1047.8" y="633" width="57.8" height="726"/></clipPath>
<path d="M1039.75 517.06L1115.6 598.87M1039.75 552.76L1115.6 634.57M1039.75 588.46L1115.6 670.27M1039.75 624.16L1115.6 705.97M1039.75 659.86L1115.6 741.67M1039.75 695.56L1115.6 777.37M1039.75 731.26L1115.6 813.07M1039.75 766.96L1115.6 848.77M1039.75 802.66L1115.6 884.47M1039.75 838.36L1115.6 920.17M1039.75 874.06L1115.6 955.87M1039.75 909.76L1115.6 991.57M1039.75 945.46L1115.6 1027.27M1039.75 981.16L1115.6 1062.97M1039.75 1016.86L1115.6 1098.67M1039.75 1052.56L1115.6 1134.37M1039.75 1088.26L1115.6 1170.07M1039.75 1123.96L1115.6 1205.77M1039.75 1159.66L1115.6 1241.47M1039.75 1195.36L1115.6 1277.17M1039.75 1231.06L1115.6 1312.87M1039.75 1266.76L1115.6 1348.57M1039.75 1302.46L1115.6 1384.27M1039.75 1338.16L1115.6 1419.97" stroke="#9900CC" stroke-width="1.4" fill="none" clip-path="url(#c3)"/>
<rect x="1047.8" y="633" width="57.8" height="726" fill="none" stroke="#9900CC" stroke-width="3.9"/>
<rect x="1164.5" y="1070.5" width="57.1" height="288.5" fill="url(#pr)"/>
<rect x="1164.5" y="1070.5" width="57.1" height="288.5" fill="none" stroke="#FF0000" stroke-width="3.9"/>
<rect x="1221.6" y="739.5" width="57.4" height="619.5" fill="url(#pb)"/>
<rect x="1221.6" y="739.5" width="57.4" height="619.5" fill="none" stroke="#0000FF" stroke-width="3.9"/>
<path d="M1279 824.3H1336.4M1279 849.77H1336.4M1279 875.24H1336.4M1279 900.71H1336.4M1279 926.18H1336.4M1279 951.65H1336.4M1279 977.12H1336.4M1279 1002.59H1336.4M1279 1028.06H1336.4M1279 1053.53H1336.4M1279 1079H1336.4M1279 1104.47H1336.4M1279 1129.94H1336.4M1279 1155.41H1336.4M1279 1180.88H1336.4M1279 1206.35H1336.4M1279 1231.82H1336.4M1279 1257.29H1336.4M1279 1282.76H1336.4M1279 1308.23H1336.4M1279 1333.7H1336.4" stroke="#009000" stroke-width="2" fill="none"/>
<rect x="1279" y="797.8" width="57.4" height="561.2" fill="none" stroke="#009000" stroke-width="3.9"/>
<clipPath id="c4"><rect x="1336.4" y="444.5" width="57.9" height="914.5"/></clipPath>
<path d="M1328.35 328.56L1404.3 410.48M1328.35 364.26L1404.3 446.18M1328.35 399.96L1404.3 481.88M1328.35 435.66L1404.3 517.58M1328.35 471.36L1404.3 553.28M1328.35 507.06L1404.3 588.98M1328.35 542.76L1404.3 624.68M1328.35 578.46L1404.3 660.38M1328.35 614.16L1404.3 696.08M1328.35 649.86L1404.3 731.78M1328.35 685.56L1404.3 767.48M1328.35 721.26L1404.3 803.18M1328.35 756.96L1404.3 838.88M1328.35 792.66L1404.3 874.58M1328.35 828.36L1404.3 910.28M1328.35 864.06L1404.3 945.98M1328.35 899.76L1404.3 981.68M1328.35 935.46L1404.3 1017.38M1328.35 971.16L1404.3 1053.08M1328.35 1006.86L1404.3 1088.78M1328.35 1042.56L1404.3 1124.48M1328.35 1078.26L1404.3 1160.18M1328.35 1113.96L1404.3 1195.88M1328.35 1149.66L1404.3 1231.58M1328.35 1185.36L1404.3 1267.28M1328.35 1221.06L1404.3 1302.98M1328.35 1256.76L1404.3 1338.68M1328.35 1292.46L1404.3 1374.38M1328.35 1328.16L1404.3 1410.08" stroke="#9900CC" stroke-width="1.4" fill="none" clip-path="url(#c4)"/>
<rect x="1336.4" y="444.5" width="57.9" height="914.5" fill="none" stroke="#9900CC" stroke-width="3.9"/>
<rect x="1453.3" y="977" width="57.1" height="382" fill="url(#pr)"/>
<rect x="1453.3" y="977" width="57.1" height="382" fill="none" stroke="#FF0000" stroke-width="3.9"/>
<rect x="1510.4" y="552" width="57.8" height="807" fill="url(#pb)"/>
<rect x="1510.4" y="552" width="57.8" height="807" fill="none" stroke="#0000FF" stroke-width="3.9"/>
<path d="M1568.2 759.5H1625.2M1568.2 784.97H1625.2M1568.2 810.44H1625.2M1568.2 835.91H1625.2M1568.2 861.38H1625.2M1568.2 886.85H1625.2M1568.2 912.32H1625.2M1568.2 937.79H1625.2M1568.2 963.26H1625.2M1568.2 988.73H1625.2M1568.2 1014.2H1625.2M1568.2 1039.67H1625.2M1568.2 1065.14H1625.2M1568.2 1090.61H1625.2M1568.2 1116.08H1625.2M1568.2 1141.55H1625.2M1568.2 1167.02H1625.2M1568.2 1192.49H1625.2M1568.2 1217.96H1625.2M1568.2 1243.43H1625.2M1568.2 1268.9H1625.2M1568.2 1294.37H1625.2M1568.2 1319.84H1625.2M1568.2 1345.31H1625.2" stroke="#009000" stroke-width="2" fill="none"/>
<rect x="1568.2" y="733" width="57" height="626" fill="none" stroke="#009000" stroke-width="3.9"/>
<clipPath id="c5"><rect x="1625.2" y="390" width="57.6" height="969"/></clipPath>
<path d="M1617.15 274.06L1692.8 355.66M1617.15 309.76L1692.8 391.36M1617.15 345.46L1692.8 427.06M1617.15 381.16L1692.8 462.76M1617.15 416.86L1692.8 498.46M1617.15 452.56L1692.8 534.16M1617.15 488.26L1692.8 569.86M1617.15 523.96L1692.8 605.56M1617.15 559.66L1692.8 641.26M1617.15 595.36L1692.8 676.96M1617.15 631.06L1692.8 712.66M1617.15 666.76L1692.8 748.36M1617.15 702.46L1692.8 784.06M1617.15 738.16L1692.8 819.76M1617.15 773.86L1692.8 855.46M1617.15 809.56L1692.8 891.16M1617.15 845.26L1692.8 926.86M1617.15 880.96L1692.8 962.56M1617.15 916.66L1692.8 998.26M1617.15 952.36L1692.8 1033.96M1617.15 988.06L1692.8 1069.66M1617.15 1023.76L1692.8 1105.36M1617.15 1059.46L1692.8 1141.06M1617.15 1095.16L1692.8 1176.76M1617.15 1130.86L1692.8 1212.46M1617.15 1166.56L1692.8 1248.16M1617.15 1202.26L1692.8 1283.86M1617.15 1237.96L1692.8 1319.56M1617.15 1273.66L1692.8 1355.26M1617.15 1309.36L1692.8 1390.96M1617.15 1345.06L1692.8 1426.66" stroke="#9900CC" stroke-width="1.4" fill="none" clip-path="url(#c5)"/>
<rect x="1625.2" y="390" width="57.6" height="969" fill="none" stroke="#9900CC" stroke-width="3.9"/>
<rect x="1739.8" y="1014" width="58.1" height="345" fill="url(#pr)"/>
<rect x="1739.8" y="1014" width="58.1" height="345" fill="none" stroke="#FF0000" stroke-width="3.9"/>
<rect x="1797.9" y="862.8" width="58.1" height="496.2" fill="url(#pb)"/>
<rect x="1797.9" y="862.8" width="58.1" height="496.2" fill="none" stroke="#0000FF" stroke-width="3.9"/>
<path d="M1856 854.7H1913.2M1856 880.17H1913.2M1856 905.64H1913.2M1856 931.11H1913.2M1856 956.58H1913.2M1856 982.05H1913.2M1856 1007.52H1913.2M1856 1032.99H1913.2M1856 1058.46H1913.2M1856 1083.93H1913.2M1856 1109.4H1913.2M1856 1134.87H1913.2M1856 1160.34H1913.2M1856 1185.81H1913.2M1856 1211.28H1913.2M1856 1236.75H1913.2M1856 1262.22H1913.2M1856 1287.69H1913.2M1856 1313.16H1913.2M1856 1338.63H1913.2" stroke="#009000" stroke-width="2" fill="none"/>
<rect x="1856" y="828.2" width="57.2" height="530.8" fill="none" stroke="#009000" stroke-width="3.9"/>
<clipPath id="c6"><rect x="1913.2" y="862.6" width="57.8" height="496.4"/></clipPath>
<path d="M1905.15 746.66L1981 828.47M1905.15 782.36L1981 864.17M1905.15 818.06L1981 899.87M1905.15 853.76L1981 935.57M1905.15 889.46L1981 971.27M1905.15 925.16L1981 1006.97M1905.15 960.86L1981 1042.67M1905.15 996.56L1981 1078.37M1905.15 1032.26L1981 1114.07M1905.15 1067.96L1981 1149.77M1905.15 1103.66L1981 1185.47M1905.15 1139.36L1981 1221.17M1905.15 1175.06L1981 1256.87M1905.15 1210.76L1981 1292.57M1905.15 1246.46L1981 1328.27M1905.15 1282.16L1981 1363.97M1905.15 1317.86L1981 1399.67" stroke="#9900CC" stroke-width="1.4" fill="none" clip-path="url(#c6)"/>
<rect x="1913.2" y="862.6" width="57.8" height="496.4" fill="none" stroke="#9900CC" stroke-width="3.9"/>
</g>
<rect x="548.8" y="54" width="522.4" height="360" fill="#fff" stroke="#000" stroke-width="1.9"/>
<path d="M555.2 94.9H681.6" stroke="#515151" stroke-width="2" fill="none"/>
<rect x="609.8" y="85.8" width="17.2" height="18.2" fill="#515151"/>
<path d="M555.2 164.1H681.6" stroke="#F14040" stroke-width="2" fill="none"/>
<ellipse cx="618.4" cy="164.1" rx="9.5" ry="9.2" fill="#F14040"/>
<path d="M555.2 233.3H681.6" stroke="#1A6FDF" stroke-width="2" fill="none"/>
<polygon points="618.4,220.1 630.7,242.5 606.1,242.5" fill="#1A6FDF"/>
<path d="M555.2 302.4H681.6" stroke="#37AD6B" stroke-width="2" fill="none"/>
<polygon points="618.4,291.3 620.96,299.62 628.77,299.8 622.55,305.12 624.81,313.55 618.4,308.52 611.99,313.55 614.25,305.12 608.03,299.8 615.84,299.62" fill="#37AD6B"/>
<path d="M555.2 371.6H681.6" stroke="#B177DE" stroke-width="2" fill="none"/>
<polygon points="618.4,357.2 629,371.6 618.4,386 607.8,371.6" fill="#B177DE"/>
<rect x="1206.8" y="54" width="522.3" height="366.3" fill="#fff" stroke="#000" stroke-width="1.9"/>
<rect x="1215.25" y="61.65" width="122.4" height="65" fill="url(#pr)"/>
<rect x="1215.25" y="61.65" width="122.4" height="65" fill="none" stroke="#FF0000" stroke-width="3.9"/>
<rect x="1215.25" y="157.15" width="122.4" height="64.7" fill="url(#pb)"/>
<rect x="1215.25" y="157.15" width="122.4" height="64.7" fill="none" stroke="#0000FF" stroke-width="3.9"/>
<path d="M1215.25 278.1H1337.65M1215.25 302.5H1337.65" stroke="#009000" stroke-width="1.9" fill="none"/>
<rect x="1215.25" y="251.15" width="122.4" height="64.5" fill="none" stroke="#009000" stroke-width="3.9"/>
<clipPath id="cl4"><rect x="1215.25" y="346.35" width="122.4" height="64.5"/></clipPath>
<path d="M1210.25 161.66L1342.65 304.46M1210.25 197.36L1342.65 340.16M1210.25 233.06L1342.65 375.86M1210.25 268.76L1342.65 411.56M1210.25 304.46L1342.65 447.26M1210.25 340.16L1342.65 482.96M1210.25 375.86L1342.65 518.66M1210.25 411.56L1342.65 554.36" stroke="#9900CC" stroke-width="1.4" fill="none" clip-path="url(#cl4)"/>
<rect x="1215.25" y="346.35" width="122.4" height="64.5" fill="none" stroke="#9900CC" stroke-width="3.9"/>
<path d="M540 53.3H1740" stroke="#000" stroke-width="4.4" fill="none"/>
<path d="M534 118.4H311" stroke="#000" stroke-width="4.4" fill="none"/>
<path d="M272.2 118.2H280.1V120.8H272.2ZM280.1 116.4H287.4V122.6H280.1ZM287.4 114.4H295V124.6H287.4ZM295 112.2H302.7V126.8H295ZM302.7 110.2H309.9V128.8H302.7ZM309.9 108.1H311.9V130.9H309.9Z" fill="#000"/>
<path d="M1609 88.1H1948" stroke="#000" stroke-width="4.2" fill="none"/>
<path d="M1977 88H1984.8V90.1H1977ZM1971.4 86.1H1977V92H1971.4ZM1963.9 84.1H1971.4V94H1963.9ZM1956.1 82.1H1963.9V96H1956.1ZM1948.9 79.9H1956.1V98H1948.9ZM1946.9 77.9H1948.9V100H1946.9Z" fill="#000"/>
<text transform="translate(228.9 1271.3) scale(0.965 1)" font-size="54.4" class="b" text-anchor="end" style="stroke-width:.8px">0</text>
<text transform="translate(228.9 1070.63) scale(0.965 1)" font-size="54.4" class="b" text-anchor="end" style="stroke-width:.8px">100</text>
<text transform="translate(228.9 869.97) scale(0.965 1)" font-size="54.4" class="b" text-anchor="end" style="stroke-width:.8px">200</text>
<text transform="translate(228.9 669.3) scale(0.965 1)" font-size="54.4" class="b" text-anchor="end" style="stroke-width:.8px">300</text>
<text transform="translate(228.9 468.63) scale(0.965 1)" font-size="54.4" class="b" text-anchor="end" style="stroke-width:.8px">400</text>
<text transform="translate(228.9 267.96) scale(0.965 1)" font-size="54.4" class="b" text-anchor="end" style="stroke-width:.8px">500</text>
<text transform="translate(228.9 67.3) scale(0.965 1)" font-size="54.4" class="b" text-anchor="end" style="stroke-width:.8px">600</text>
<text transform="translate(2038.6 1373) scale(0.965 1)" font-size="54.4" class="b" text-anchor="start" style="stroke-width:.8px">0</text>
<text transform="translate(2038.6 1227.92) scale(0.965 1)" font-size="54.4" class="b" text-anchor="start" style="stroke-width:.8px">5</text>
<text transform="translate(2038.6 1082.84) scale(0.965 1)" font-size="54.4" class="b" text-anchor="start" style="stroke-width:.8px">10</text>
<text transform="translate(2038.6 937.77) scale(0.965 1)" font-size="54.4" class="b" text-anchor="start" style="stroke-width:.8px">15</text>
<text transform="translate(2038.6 792.69) scale(0.965 1)" font-size="54.4" class="b" text-anchor="start" style="stroke-width:.8px">20</text>
<text transform="translate(2038.6 647.61) scale(0.965 1)" font-size="54.4" class="b" text-anchor="start" style="stroke-width:.8px">25</text>
<text transform="translate(2038.6 502.53) scale(0.965 1)" font-size="54.4" class="b" text-anchor="start" style="stroke-width:.8px">30</text>
<text transform="translate(2038.6 357.46) scale(0.965 1)" font-size="54.4" class="b" text-anchor="start" style="stroke-width:.8px">35</text>
<text transform="translate(2038.6 212.38) scale(0.965 1)" font-size="54.4" class="b" text-anchor="start" style="stroke-width:.8px">40</text>
<text transform="translate(2038.6 67.3) scale(0.965 1)" font-size="54.4" class="b" text-anchor="start" style="stroke-width:.8px">45</text>
<text transform="translate(412.2 1441.2) scale(0.965 1)" font-size="54.4" class="b" text-anchor="middle" style="stroke-width:.8px">30</text>
<text transform="translate(700.7 1441.2) scale(0.965 1)" font-size="54.4" class="b" text-anchor="middle" style="stroke-width:.8px">40</text>
<text transform="translate(989.2 1441.2) scale(0.965 1)" font-size="54.4" class="b" text-anchor="middle" style="stroke-width:.8px">50</text>
<text transform="translate(1277.7 1441.2) scale(0.965 1)" font-size="54.4" class="b" text-anchor="middle" style="stroke-width:.8px">60</text>
<text transform="translate(1566.2 1441.2) scale(0.965 1)" font-size="54.4" class="b" text-anchor="middle" style="stroke-width:.8px">70</text>
<text transform="translate(1854.7 1441.2) scale(0.965 1)" font-size="54.4" class="b" text-anchor="middle" style="stroke-width:.8px">80</text>
<text transform="translate(904.4 1547.5) scale(0.96 1)" font-size="65.5" class="b" text-anchor="start">temperature</text>
<text transform="translate(1252.4 1547.5) scale(0.912 1)" font-size="65.5" class="b" text-anchor="start">(<tspan dy="3.6" font-size="70" style="stroke:none">°</tspan><tspan dy="-3.6">C)</tspan></text>
<text transform="translate(86.8 569.5) rotate(-90) scale(1.075 1)" font-size="62.5" class="b" text-anchor="middle">G*/sinδ (kPa)</text>
<text transform="translate(2159.7 1299) rotate(-90) scale(1.051 1)" font-size="64" class="b" text-anchor="start">Rutting factor improvement range</text>
<text transform="translate(2155.4 317.7) rotate(-90) scale(1.3 1)" font-size="53" style="font-family:'Noto Serif CJK SC',serif;font-weight:300">（</text>
<text transform="translate(2157.6 248) rotate(-90) scale(1.14 1)" font-size="65" class="b">%</text>
<text transform="translate(2155.4 172.1) rotate(-90) scale(1.3 1)" font-size="53" style="font-family:'Noto Serif CJK SC',serif;font-weight:300">）</text>
<text transform="translate(693.5 114.2) scale(0.917 1)" font-size="61.3" text-anchor="start">Asphalt</text>
<text transform="translate(693.5 183.2) scale(0.917 1)" font-size="61.3" text-anchor="start">20%T</text>
<text transform="translate(693.5 252.2) scale(0.917 1)" font-size="61.3" text-anchor="start">20% GTCM-0.5</text>
<text transform="translate(693.5 321.8) scale(0.917 1)" font-size="61.3" text-anchor="start">20% GTCM-1.0</text>
<text transform="translate(693.5 390.8) scale(0.917 1)" font-size="61.3" text-anchor="start">20% GTCM-1.5</text>
<text transform="translate(1353.2 113.6) scale(0.917 1)" font-size="61.3" text-anchor="start">T</text>
<text transform="translate(1353.2 206.9) scale(0.917 1)" font-size="61.3" text-anchor="start">20% GTCM-0.5</text>
<text transform="translate(1353.2 302.2) scale(0.917 1)" font-size="61.3" text-anchor="start">20% GTCM-1.0</text>
<text transform="translate(1353.2 397.4) scale(0.917 1)" font-size="61.3" text-anchor="start">20% GTCM-1.5</text>
</g>
</svg></body></html>
